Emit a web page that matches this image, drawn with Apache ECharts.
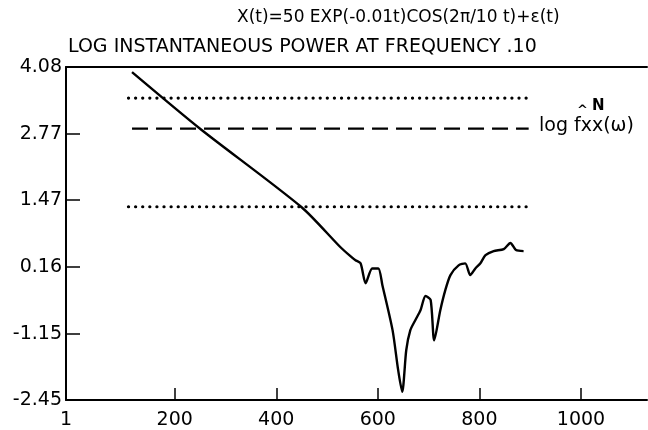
<!DOCTYPE html>
<html><head><meta charset="utf-8">
<script src="https://cdn.jsdelivr.net/npm/echarts@6/dist/echarts.min.js"></script>
<style>html,body{margin:0;padding:0;background:#fff}#c{width:648px;height:430px}</style>
</head><body><div id="c"></div>
<script>
const titleText = 'X(t)=50 EXP(-0.01t)COS(2π/10 t)+ε(t)';
const subtitleText = 'LOG INSTANTANEOUS POWER AT FREQUENCY .10';
const legendMain = 'log fxx(ω)';
const legendSup = 'N';

const yTicks = [-2.45, -1.15, 0.16, 1.47, 2.77, 4.08];
const xTicks = [-14, 200, 400, 600, 800, 1000];
const xMin = -14, xMax = 1130;

// instantaneous log power curve
const time = [116, 250, 450, 526, 546, 556, 566, 576, 589, 601, 609, 629, 640, 648, 656, 664, 674, 684, 694, 704, 711, 723, 733, 743, 759, 772, 782, 792, 802, 812, 828, 848, 861, 872, 887];
const logPower = [3.98, 2.87, 1.33, 0.55, 0.37, 0.29, 0.23, -0.16, 0.13, 0.13, -0.20, -1.08, -1.86, -2.29, -1.47, -1.08, -0.88, -0.69, -0.41, -0.49, -1.28, -0.69, -0.29, 0.00, 0.19, 0.23, 0.00, 0.13, 0.23, 0.39, 0.47, 0.51, 0.63, 0.49, 0.47];

// confidence band and spectrum level
const bandT = [109, 894];
const upperBand = [3.47, 3.47];
const lowerBand = [1.34, 1.34];
const spectrumT = [116, 897];
const spectrumLevel = [2.87, 2.87];

const zip = (a, b) => a.map((v, i) => [v, b[i]]);
const FONT = 'DejaVu Sans';

const chart = echarts.init(document.getElementById('c'));
chart.setOption({
  animation: false,
  backgroundColor: '#fff',
  grid: { left: 66, right: 1, top: 67, bottom: 30, containLabel: false, outerBoundsMode: 'none' },
  xAxis: [{
    type: 'value', min: xMin, max: xMax, position: 'bottom',
    splitLine: { show: false },
    axisLine: { show: true, onZero: false, lineStyle: { color: '#000', width: 2 } },
    axisTick: { show: true, inside: true, length: 12, customValues: xTicks.slice(1), lineStyle: { color: '#000', width: 1.5 } },
    axisLabel: { customValues: xTicks, color: '#000', fontFamily: FONT, fontSize: 19, margin: 11,
      formatter: v => (v === xMin ? '1' : String(v)) }
  }, {
    type: 'value', min: xMin, max: xMax, position: 'top',
    splitLine: { show: false },
    axisLine: { show: true, onZero: false, lineStyle: { color: '#000', width: 2 } },
    axisTick: { show: false }, axisLabel: { show: false }
  }],
  yAxis: {
    type: 'value', min: -2.45, max: 4.08,
    splitLine: { show: false },
    axisLine: { show: true, onZero: false, lineStyle: { color: '#000', width: 2 } },
    axisTick: { show: true, inside: true, length: 14, customValues: yTicks, lineStyle: { color: '#000', width: 1.5 } },
    axisLabel: { customValues: yTicks, color: '#000', fontFamily: FONT, fontSize: 19, margin: 4,
      formatter: v => v.toFixed(2) }
  },
  graphic: [
    { type: 'text', left: 237, top: 9, style: { text: titleText, font: '17px "DejaVu Sans"', fill: '#000' }, z: 10 },
    { type: 'text', left: 68, top: 38, style: { text: subtitleText, font: '19px "DejaVu Sans"', fill: '#000' }, z: 10 },
    { type: 'text', x: 539, y: 126, style: { text: legendMain, font: '19px "DejaVu Sans"', fill: '#000', textVerticalAlign: 'middle' }, z: 10 },
    { type: 'text', x: 577, y: 111, style: { text: '^', font: 'bold 13px "DejaVu Sans"', fill: '#000', textVerticalAlign: 'middle' }, z: 10 },
    { type: 'text', x: 592, y: 106, style: { text: legendSup, font: 'bold 15px "DejaVu Sans"', fill: '#000', textVerticalAlign: 'middle' }, z: 10 }
  ],
  series: [
    { type: 'line', data: zip(time, logPower), symbol: 'none', smooth: 0.25,
      lineStyle: { color: '#000', width: 2.4 } },
    { type: 'line', data: zip(bandT, upperBand), symbol: 'none',
      lineStyle: { color: '#000', width: 3.2, type: [0.1, 7], cap: 'round' } },
    { type: 'line', data: zip(bandT, lowerBand), symbol: 'none',
      lineStyle: { color: '#000', width: 3.2, type: [0.1, 7], cap: 'round' } },
    { type: 'line', data: zip(spectrumT, spectrumLevel), symbol: 'none',
      lineStyle: { color: '#000', width: 2.2, type: [16, 8] } }
  ]
});
</script>
</body></html>
